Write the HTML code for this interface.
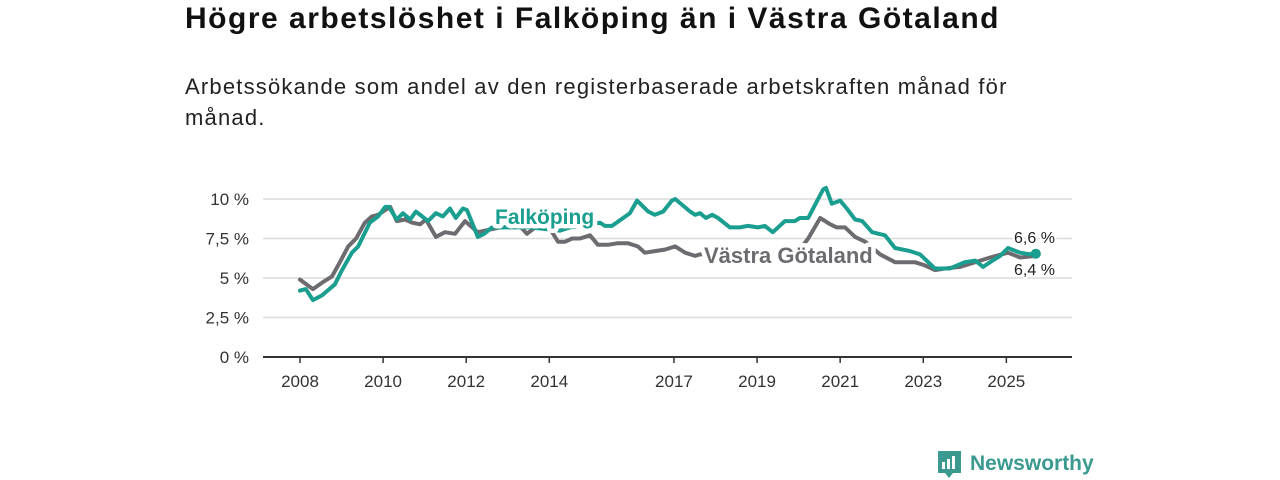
<!DOCTYPE html>
<html><head><meta charset="utf-8">
<style>
body{margin:0;width:1280px;height:480px;background:#fff;font-family:"Liberation Sans",sans-serif;overflow:hidden;position:relative}
#title{position:absolute;left:185px;top:2px;font-size:30px;letter-spacing:1.5px;font-weight:bold;color:#111;margin:0}
#sub{position:absolute;left:185px;top:71px;width:850px;font-size:22px;letter-spacing:1.2px;line-height:31px;color:#222;margin:0}
svg{position:absolute;left:0;top:0}
</style></head><body>
<h1 id="title">Högre arbetslöshet i Falköping än i Västra Götaland</h1>
<p id="sub">Arbetssökande som andel av den registerbaserade arbetskraften månad för månad.</p>
<svg id="chart" width="1280" height="480"></svg>
<script>
const yTicks=[0,2.5,5,7.5,10];
const yTickLabels=["0 %","2,5 %","5 %","7,5 %","10 %"];
const xTicks=[2008,2010,2012,2014,2017,2019,2021,2023,2025];
const falkT=[2008,2008.14,2008.31,2008.53,2008.84,2009.01,2009.25,2009.4,2009.68,2009.88,2010.05,2010.14,2010.33,2010.48,2010.65,2010.79,2010.94,2011.08,2011.27,2011.44,2011.61,2011.75,2011.92,2012.02,2012.28,2012.43,2012.62,2013.54,2014.26,2014.5,2015.22,2015.34,2015.51,2015.94,2016.11,2016.38,2016.54,2016.74,2016.95,2017.03,2017.39,2017.51,2017.63,2017.77,2017.92,2018.06,2018.35,2018.59,2018.78,2019.02,2019.19,2019.38,2019.67,2019.91,2020.03,2020.23,2020.39,2020.59,2020.66,2020.8,2021,2021.16,2021.36,2021.53,2021.77,2022.08,2022.32,2022.68,2022.92,2023.28,2023.64,2024,2024.25,2024.44,2024.61,2024.85,2025.04,2025.33,2025.57,2025.71];
const falkV=[4.2,4.3,3.6,3.9,4.6,5.5,6.6,7.0,8.5,8.9,9.5,9.5,8.7,9.1,8.7,9.2,8.9,8.6,9.1,8.9,9.4,8.8,9.4,9.3,7.6,7.8,8.2,8.2,8.0,8.2,8.5,8.3,8.3,9.1,9.9,9.2,9.0,9.2,9.9,10.0,9.2,9.0,9.1,8.8,9.0,8.8,8.2,8.2,8.3,8.2,8.3,7.9,8.6,8.6,8.8,8.8,9.6,10.6,10.7,9.7,9.9,9.4,8.7,8.6,7.9,7.7,6.9,6.7,6.5,5.6,5.6,6.0,6.1,5.7,6.0,6.4,6.9,6.6,6.5,6.6];
const vgT=[2008,2008.31,2008.53,2008.77,2008.96,2009.16,2009.35,2009.56,2009.73,2009.88,2010.05,2010.17,2010.33,2010.53,2010.7,2010.89,2011.03,2011.27,2011.49,2011.73,2011.97,2012.28,2012.81,2013.29,2013.46,2013.66,2014.02,2014.21,2014.38,2014.55,2014.74,2014.98,2015.17,2015.41,2015.65,2015.89,2016.13,2016.3,2016.54,2016.78,2017.03,2017.27,2017.51,2017.63,2018.59,2019.31,2020.03,2020.23,2020.52,2020.76,2020.92,2021.12,2021.36,2021.6,2021.96,2022.32,2022.8,2023.04,2023.28,2023.52,2023.88,2024.25,2024.61,2025.04,2025.33,2025.71];
const vgV=[4.9,4.3,4.7,5.1,6.0,7.0,7.5,8.5,8.9,9.0,9.3,9.5,8.6,8.7,8.5,8.4,8.7,7.6,7.9,7.8,8.6,7.9,8.2,8.3,7.8,8.2,8.1,7.3,7.3,7.5,7.5,7.7,7.1,7.1,7.2,7.2,7.0,6.6,6.7,6.8,7.0,6.6,6.4,6.5,6.4,6.5,6.8,7.5,8.8,8.4,8.2,8.2,7.6,7.3,6.5,6.0,6.0,5.8,5.5,5.6,5.7,6.0,6.3,6.6,6.3,6.4];
const NS="http://www.w3.org/2000/svg";
const svg=document.getElementById('chart');
const X=t=>300+(t-2008)*41.55;
const Y=v=>357-v*15.8;
function mk(tag,at,parent){const e=document.createElementNS(NS,tag);for(const k in at)e.setAttribute(k,at[k]);(parent||svg).appendChild(e);return e;}
yTicks.forEach((v,i)=>{
  if(v>0){const g=mk('line',{x1:263,x2:1072,y1:Y(v),y2:Y(v),stroke:'#dcdcdc','stroke-width':1.5});
  
  }
  const t=mk('text',{x:249,y:Y(v)+6,'text-anchor':'end','font-size':17,fill:'#333'});
  t.textContent=yTickLabels[i];
  
  
});
const ax=mk('line',{x1:263,x2:1072,y1:357,y2:357,stroke:'#333','stroke-width':2});


xTicks.forEach(yr=>{
  mk('line',{x1:X(yr),x2:X(yr),y1:357,y2:363,stroke:'#333','stroke-width':1.5});
  const t=mk('text',{x:X(yr),y:387,'text-anchor':'middle','font-size':17,fill:'#333'});
  t.textContent=yr;
  
  
});
function line(T,V,col,name){
  const d=T.map((t,i)=>(i?'L':'M')+X(t).toFixed(1)+','+Y(V[i]).toFixed(1)).join('');
  const p=mk('path',{d:d,fill:'none',stroke:col,'stroke-width':4,'stroke-linejoin':'round','stroke-linecap':'round'});
  
  
}
line(vgT,vgV,'#6e6b70','line-vastra-gotaland');
line(falkT,falkV,'#1a9e8f','line-falkoping');
const dot=mk('circle',{cx:X(falkT[falkT.length-1]),cy:Y(falkV[falkV.length-1])+1,r:5,fill:'#1a9e8f'});


function lbl(x,y,txt,col,size,w,name){
  const t=mk('text',{x:x,y:y,'font-size':size,'font-weight':w,fill:col,stroke:'#fff','stroke-width':w==='bold'?9:4,'paint-order':'stroke','stroke-linejoin':'round'});
  t.textContent=txt;
  
  
}
lbl(495,224,'Falköping','#1a9e8f',21,'bold','series-label-falkoping');
lbl(704,263,'Västra Götaland','#6e6b70',22,'bold','series-label-vastra-gotaland');
lbl(1014,243,'6,6 %','#222',16,'normal','end-value-falkoping');
lbl(1014,275,'6,4 %','#222',16,'normal','end-value-vastra-gotaland');
const lg=mk('g',{});


mk('path',{d:'M938 451h23v22h-8l-4 5l-4-5h-7z',fill:'#3a9a8f'},lg);
mk('rect',{x:942,y:462,width:3,height:7,fill:'#fff'},lg);
mk('rect',{x:947,y:459,width:3,height:10,fill:'#fff'},lg);
mk('rect',{x:952,y:456,width:3,height:13,fill:'#fff'},lg);
const lt=mk('text',{x:970,y:470,'font-size':21,'font-weight':'bold',fill:'#3a9a8f'},lg);
lt.textContent='Newsworthy';
</script>
</body></html>
